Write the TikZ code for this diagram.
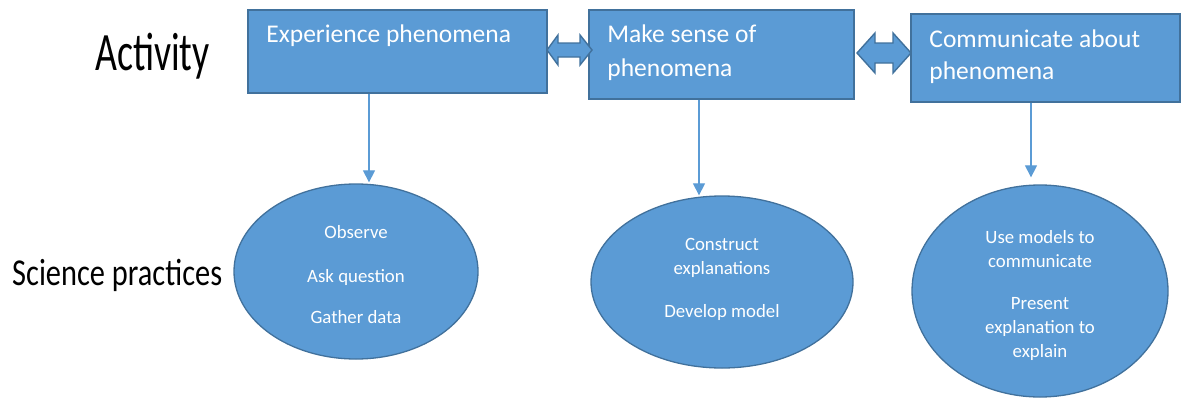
\documentclass[tikz,border=0pt]{standalone}
\usepackage{fontspec}
\setmainfont{Carlito}
\usetikzlibrary{calc,arrows.meta,shapes.geometric}
\definecolor{fillb}{HTML}{5B9BD5}
\definecolor{edgeb}{HTML}{41719C}
\tikzset{
  actbox/.style={draw=edgeb,line width=1.6pt,fill=fillb,inner sep=0pt},
  pracell/.style={ellipse,draw=edgeb,line width=1.3pt,fill=fillb,inner sep=0pt},
  boxtext/.style={text=white,font=\fontsize{25.5}{30}\selectfont,inner sep=0pt,anchor=base west},
  elltext/.style={text=white,font=\fontsize{18.8}{22}\selectfont,inner sep=0pt,anchor=base},
  hand/.style={text=black,inner sep=0pt,anchor=base west},
  conn/.style={draw=fillb,line width=1.2pt,-{Triangle[width=12pt,length=12pt]}},
  dbl/.style={fill=fillb,draw=edgeb,line width=1.4pt,line join=miter}
}
\begin{document}
\begin{tikzpicture}[x=1pt,y=-1pt]
\useasboundingbox (0,0) rectangle (1188,399);
% side labels
\node[hand,font=\fontsize{54}{60}\selectfont] (act) at (95,70) {\scalebox{0.7}[1]{Activity}};
\node[hand,font=\fontsize{38}{44}\selectfont] (sci) at (12,285) {\scalebox{0.8}[1]{Science practices}};
% activity boxes
\node[actbox,minimum width=299pt,minimum height=83pt] (b1) at (397.5,51.5) {};
\node[actbox,minimum width=265pt,minimum height=89pt] (b2) at (721.5,54.5) {};
\node[actbox,minimum width=269pt,minimum height=88pt] (b3) at (1045.5,58) {};
\node[boxtext] (t1) at ($(b1.north west)+(19,33)$) {Experience phenomena};
\node[boxtext] (t2a) at ($(b2.north west)+(19,33)$) {Make sense of};
\node[boxtext] (t2b) at ($(b2.north west)+(19,67)$) {phenomena};
\node[boxtext] (t3a) at ($(b3.north west)+(19,34)$) {Communicate about};
\node[boxtext] (t3b) at ($(b3.north west)+(19,66)$) {phenomena};
% double arrows
\draw[dbl] (547,50) -- (558,35) -- (558,43) -- (580,43) -- (580,35) -- (592,50)
  -- (580,65) -- (580,57) -- (558,57) -- (558,65) -- cycle;
\draw[dbl] (857,53) -- (875,33) -- (875,43) -- (893,43) -- (893,33) -- (911,53)
  -- (893,73) -- (893,63) -- (875,63) -- (875,73) -- cycle;
% practice ellipses
\node[pracell,minimum width=244pt,minimum height=175pt] (e1) at (356,271.5) {};
\node[pracell,minimum width=262pt,minimum height=172pt] (e2) at (722,282) {};
\node[pracell,minimum width=256pt,minimum height=212pt] (e3) at (1040,291) {};
\node[elltext] (p11) at ($(e1.center)+(0,-33.5)$) {Observe};
\node[elltext] (p12) at ($(e1.center)+(0,10.5)$) {Ask question};
\node[elltext] (p13) at ($(e1.center)+(0,51.5)$) {Gather data};
\node[elltext] (p21) at ($(e2.center)+(0,-32)$) {Construct};
\node[elltext] (p22) at ($(e2.center)+(0,-8)$) {explanations};
\node[elltext] (p23) at ($(e2.center)+(0,35)$) {Develop model};
\node[elltext] (p31) at ($(e3.center)+(0,-48)$) {Use models to};
\node[elltext] (p32) at ($(e3.center)+(0,-24)$) {communicate};
\node[elltext] (p33) at ($(e3.center)+(0,18)$) {Present};
\node[elltext] (p34) at ($(e3.center)+(0,42)$) {explanation to};
\node[elltext] (p35) at ($(e3.center)+(0,66)$) {explain};
% connectors
\coordinate (a1) at ($(e1.north)+(13,-1)$);
\coordinate (a2) at ($(e2.north)+(-23,0)$);
\coordinate (a3) at ($(e3.north)+(-9,-7)$);
\draw[conn] (b1.south -| a1) -- (a1);
\draw[conn] (b2.south -| a2) -- (a2);
\draw[conn] (b3.south -| a3) -- (a3);
\end{tikzpicture}
\end{document}
